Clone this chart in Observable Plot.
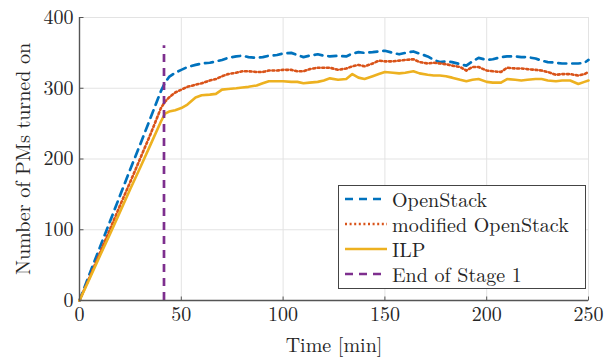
<!DOCTYPE html>
<html>
<head>
<meta charset="utf-8">
<script src="https://cdn.jsdelivr.net/npm/d3@7"></script>
<script src="https://cdn.jsdelivr.net/npm/@observablehq/plot@0.6"></script>
<style>
  html, body { margin: 0; padding: 0; background: #fff; }
  #wrap { position: relative; width: 613px; height: 360px; }
  #legend {
    position: absolute; left: 338px; top: 185px; width: 248px; height: 104px;
    border: 1.3px solid #444; background: #fff; box-sizing: border-box;
    font-size: 20px; color: #262626; line-height: 1;
  }
  .row { position: absolute; left: 6px; height: 20px; display: flex; align-items: center; white-space: nowrap; line-height: 1; }
  .row svg { margin-right: 5px; }
</style>
</head>
<body>
<div id="wrap"><div id="chart"></div><div id="legend"></div></div>
<script>
const time = [0,5,10,15,20,25,30,35,40,42,44,47,50,53,57,60,64,67,70,73,77,80,83,87,90,93,97,100,104,107,110,113,117,120,123,127,131,134,137,140,144,147,150,154,157,160,164,167,171,174,177,180,183,187,190,193,196,200,203,207,210,214,217,220,224,227,230,234,237,241,245,248,250];
const openStack = [0,38,75,112,149,186,222,259,296,308,316,322,326,330,333,335,336,338,340,343,345,346,344,343,344,346,347,349,350,347,344,346,348,346,345,346,345,349,351,350,351,352,353,350,348,350,352,349,345,340,337,338,337,334,332,338,343,340,341,344,345,345,344,344,342,339,337,336,335,335,335,336,340];
const modifiedOpenStack = [0,33,67,101,135,168,202,236,272,281,287,294,298,302,305,307,311,313,317,320,322,324,324,323,323,325,325,326,326,324,324,327,329,329,329,326,328,331,333,331,335,339,338,338,339,340,341,337,335,336,335,334,332,330,325,330,330,325,324,323,329,328,328,327,326,325,323,319,320,320,318,320,323];
const ilp = [0,31,63,94,126,158,189,221,253,264,267,269,272,277,287,290,291,292,298,299,300,301,302,304,307,310,310,310,309,309,307,308,309,311,314,312,313,320,315,313,317,320,323,322,321,322,324,321,319,318,318,317,315,312,310,312,313,309,308,308,313,312,311,312,313,313,311,310,311,311,306,309,311];
const stageEnd = [41.5];
const stageTop = 360;
const xTicks = [0,50,100,150,200,250];
const yTicks = [0,100,200,300,400];
const seriesNames = ["OpenStack","modified OpenStack","ILP","End of Stage 1"];
const seriesColors = ["#0072BD","#D95319","#EDB120","#7E2F8E"];
const seriesDash = ["8,6","2,2.6",null,"8,6"];

const FONT = '"Latin Modern Roman", "Liberation Serif", serif';
const rows = (vals) => time.map((t,i) => ({t, v: vals[i]}));

const axisColor = "#262626";
const tickColor = "#555";
const tickUp = {draw(ctx) { ctx.moveTo(0, 0); ctx.lineTo(0, -4); }};
const tickRight = {draw(ctx) { ctx.moveTo(0, 0); ctx.lineTo(4, 0); }};

const chart = Plot.plot({
  width: 613, height: 360,
  marginLeft: 79, marginRight: 25, marginTop: 17, marginBottom: 60,
  style: {fontSize: "20px", color: axisColor, background: "#fff"},
  x: {domain: [0,250], ticks: xTicks, label: null},
  y: {domain: [0,400], ticks: yTicks, label: null},
  marks: [
    Plot.gridX(xTicks, {stroke: "#e3e3e3", strokeOpacity: 1, strokeWidth: 1}),
    Plot.gridY(yTicks, {stroke: "#e3e3e3", strokeOpacity: 1, strokeWidth: 1}),
    Plot.axisX(xTicks, {tickSize: 0, tickPadding: 6, label: "Time [min]", labelAnchor: "center", labelArrow: "none", labelOffset: 51, fill: axisColor, fontSize: 20}),
    Plot.axisY(yTicks, {tickSize: 0, tickPadding: 6, label: "Number of PMs turned on", labelAnchor: "center", labelArrow: "none", labelOffset: 64, fill: axisColor, fontSize: 20}),
    Plot.line(rows(openStack), {x: "t", y: "v", stroke: seriesColors[0], strokeWidth: 2.7, strokeDasharray: seriesDash[0]}),
    Plot.line(rows(modifiedOpenStack), {x: "t", y: "v", stroke: seriesColors[1], strokeWidth: 2.6, strokeDasharray: seriesDash[1]}),
    Plot.line(rows(ilp), {x: "t", y: "v", stroke: seriesColors[2], strokeWidth: 2.6}),
    Plot.ruleX(stageEnd, {y1: 0, y2: stageTop, stroke: seriesColors[3], strokeWidth: 2.7, strokeDasharray: seriesDash[3]}),
    Plot.ruleY([0], {stroke: tickColor, strokeWidth: 1.4}),
    Plot.ruleX([0], {stroke: tickColor, strokeWidth: 1.4}),
    Plot.dot(xTicks, {x: d => d, y: 0, symbol: tickUp, stroke: tickColor, strokeWidth: 1, fill: "none"}),
    Plot.dot(yTicks, {x: 0, y: d => d, symbol: tickRight, stroke: tickColor, strokeWidth: 1, fill: "none"})
  ]
});
chart.setAttribute("font-family", FONT);
chart.style.fontFamily = FONT;
d3.select(chart).selectAll("g, text").attr("font-family", null).style("font-family", FONT);
document.getElementById("chart").appendChild(chart);

const legend = document.getElementById("legend");
legend.style.fontFamily = FONT;
seriesNames.forEach((name, i) => {
  const row = document.createElement("div");
  row.className = "row";
  row.style.top = (2.5 + i * 25.3) + "px";
  row.style.fontFamily = FONT;
  const dash = seriesDash[i] ? `stroke-dasharray="${seriesDash[i]}"` : "";
  row.innerHTML = `<svg width="42" height="6"><line x1="0" y1="3" x2="42" y2="3" stroke="${seriesColors[i]}" stroke-width="2.6" ${dash}/></svg><span>${name}</span>`;
  legend.appendChild(row);
});
</script>
</body>
</html>
